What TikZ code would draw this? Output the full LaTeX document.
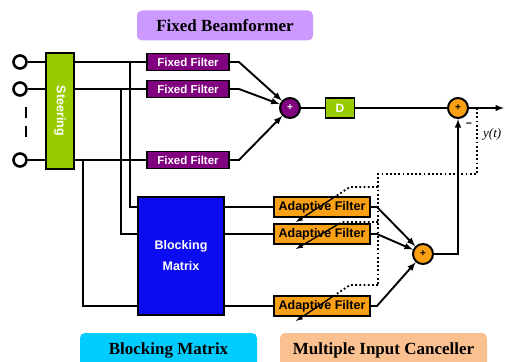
\documentclass[tikz,border=0pt]{standalone}
\usepackage{fontspec}
\setmainfont{Liberation Serif}
\setsansfont{Liberation Sans}
\usetikzlibrary{arrows, positioning, calc}
\definecolor{beamlilac}{RGB}{204,153,255}
\definecolor{steergreen}{RGB}{153,204,0}
\definecolor{filterpurple}{RGB}{128,0,128}
\definecolor{blockblue}{RGB}{12,12,240}
\definecolor{adaptorange}{RGB}{250,160,20}
\definecolor{blockcyan}{RGB}{0,204,255}
\definecolor{cancelpeach}{RGB}{250,192,144}

\tikzset{
  wire/.style={line width=1.9pt},
  sig/.style={line width=1.9pt, -latex},
  errline/.style={line width=1.8pt, dash pattern=on 1.8pt off 2.4pt},
  inport/.style={circle, draw, line width=2.6pt, fill=white, minimum size=13pt, inner sep=0pt},
  fixedfilter/.style={draw, line width=1.9pt, fill=filterpurple, text=white, inner sep=0pt,
                      minimum width=82pt, minimum height=17pt,
                      font=\sffamily\bfseries\fontsize{11.5}{12}\selectfont},
  adaptfilter/.style={draw, line width=1.9pt, fill=adaptorange, text=black, inner sep=0pt,
                      minimum width=96pt, minimum height=20pt,
                      font=\sffamily\bfseries\fontsize{12.5}{14}\selectfont},
  sumnode/.style={circle, draw, line width=2pt, minimum size=20pt, inner sep=0pt,
                  font=\sffamily\bfseries\fontsize{10}{10}\selectfont},
  titlebox/.style={rounded corners=5pt, inner sep=0pt, minimum height=30pt,
                   font=\rmfamily\bfseries\fontsize{17}{20}\selectfont}
}

\begin{document}
\begin{tikzpicture}[x=1pt, y=-1pt]
  \clip (0,0) rectangle (505,361);
  \fill[white] (0,0) rectangle (505,361);

  % group labels
  \node[titlebox, fill=beamlilac, minimum width=176pt] (fbtitle) at (225,25.5) {Fixed Beamformer};
  \node[titlebox, fill=blockcyan, minimum width=177pt, minimum height=34pt] (bmtitle) at (168.5,350) {Blocking Matrix};
  \node[titlebox, fill=cancelpeach, minimum width=207pt, minimum height=34pt] (mictitle) at (383.5,350) {Multiple Input Canceller};

  % microphones and steering
  \node[inport] (in1) at (20,62) {};
  \node[inport] (in2) at (20,89) {};
  \node[inport] (in3) at (20,160) {};
  \draw[line width=2.6pt, dash pattern=on 11pt off 8pt] (26,107) -- (26,138);

  \node[draw, line width=1.9pt, fill=steergreen, text=white, minimum width=28pt, minimum height=116pt,
        inner sep=0pt, font=\sffamily\bfseries\fontsize{12.5}{13}\selectfont]
        (steer) at (60,111) {\rotatebox{-90}{Steering}};

  \node[fixedfilter] (ff1) at (188,62) {Fixed Filter};
  \node[fixedfilter] (ff2) at (188,89) {Fixed Filter};
  \node[fixedfilter] (ff3) at (188,160) {Fixed Filter};

  \node[sumnode, fill=filterpurple, text=white] (fbsum) at (290,108) {+};
  \node[draw, line width=1.9pt, fill=steergreen, text=white, minimum width=29pt, minimum height=20pt,
        inner sep=0pt, font=\sffamily\bfseries\fontsize{12}{14}\selectfont] (delay) at (340,108) {D};
  \node[sumnode, fill=adaptorange, text=black] (outsum) at (458,108) {+};
  \coordinate (yend) at (504,108);
  \coordinate (etap) at (477,108);
  \node[font=\sffamily\bfseries\fontsize{11}{12}\selectfont] (minus) at (469,125) {--};
  \node[anchor=west, inner sep=1pt, font=\rmfamily\itshape\fontsize{13}{15}\selectfont] (yout) at (482,134) {y(t)};

  % blocking matrix and adaptive filters
  \node[draw, line width=1.9pt, fill=blockblue, text=white, minimum width=86pt, minimum height=118pt,
        inner sep=0pt, align=center, font=\sffamily\bfseries\fontsize{12.5}{21}\selectfont]
        (bm) at (181,256) {Blocking\\Matrix};

  \node[adaptfilter] (af1) at (322,207) {Adaptive Filter};
  \node[adaptfilter] (af2) at (322,234) {Adaptive Filter};
  \node[adaptfilter] (af3) at (322,306) {Adaptive Filter};

  \node[sumnode, fill=adaptorange, text=black] (ancsum) at (423,254) {+};

  % inputs through steering
  \foreach \i in {1,2,3}{
    \draw[wire] (in\i.east) -- (in\i -| steer.west);
    \draw[wire] (in\i -| steer.east) -- (ff\i.west);
    \draw[sig] (ff\i.east) -- ++(9,0) -- (fbsum);
  }

  % taps into the blocking matrix
  \coordinate (tap1) at (130,62);
  \coordinate (tap2) at (121,89);
  \coordinate (tap3) at (83,160);
  \foreach \i in {1,2,3}{
    \draw[wire] (tap\i) |- (bm.west |- af\i);
    \draw[wire] (bm.east |- af\i) -- (af\i.west);
    \draw[sig] (af\i.east) -- ++(6,0) -- (ancsum);
  }

  \draw[wire] (fbsum) -- (delay);
  \draw[wire] (delay) -- (outsum);
  \draw[sig] (outsum) -- (yend);
  \draw[sig] (ancsum.east) -| (outsum.south);

  % error feedback to the adaptive filters
  \draw[errline] (etap) -- (477,174) -- (378,174) -- (378,285);
  \foreach \f/\ey/\ex in {af1/187/350, af2/222/342, af3/285/350}{
    \coordinate (tip) at ($(\f.south)+(-26,4)$);
    \coordinate (hit) at (intersection of {\ex,\ey}--tip and \f.north west--\f.north east);
    \draw[errline] (378,\ey) -- (\ex,\ey) -- (hit);
    \draw[line width=1.3pt, -latex] (hit) -- (tip);
  }
\end{tikzpicture}
\end{document}
